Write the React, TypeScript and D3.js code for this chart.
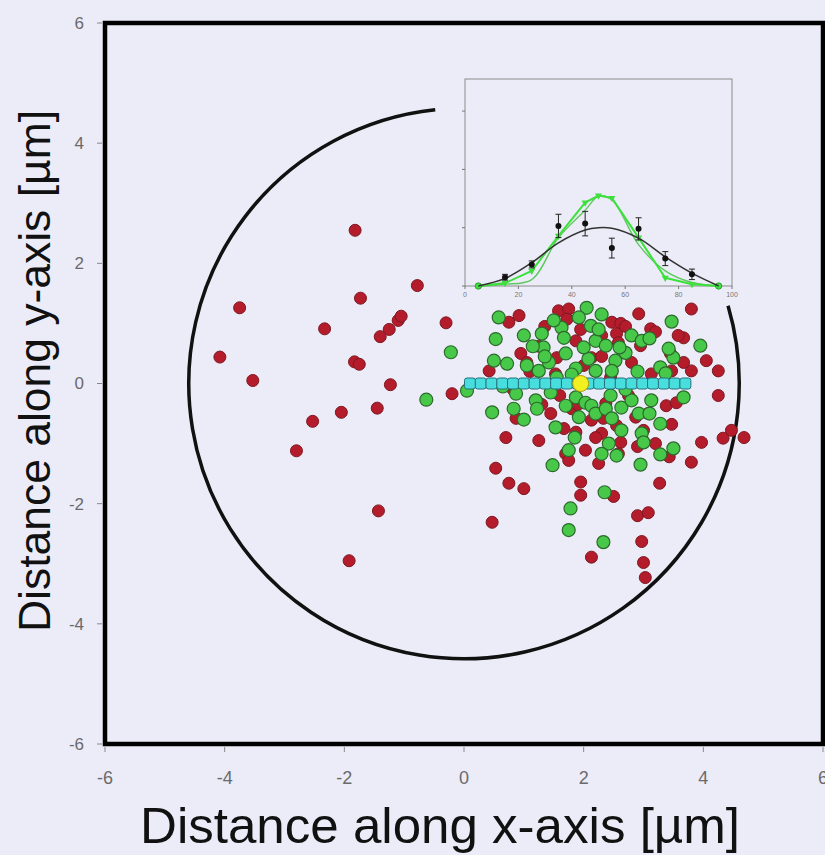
import { useEffect } from "react";
import * as d3 from "d3";

// main scatter: positions in micrometres
const redPoints: [number, number][] = [
    [-4.08, 0.44], [-3.75, 1.26], [-3.53, 0.05], [-2.8, -1.12], [-2.53, -0.63], [-2.05, -0.48],
    [-2.33, 0.91], [-1.82, 2.55], [-1.73, 1.42], [-1.83, 0.36], [-1.75, 0.32], [-1.4, 0.78],
    [-1.25, 0.9], [-1.1, 1.05], [-1.05, 1.12], [-0.78, 1.63], [-1.45, -0.41], [-1.23, -0.02],
    [-1.43, -2.12], [-1.92, -2.95], [-0.3, 1.01], [-0.2, -0.17],
    [0.42, 0.21], [0.75, 1.02], [0.92, 1.13], [0.95, 0.5], [1.25, 0.62], [1.55, 0.43], [1.53, 0.16],
    [1.58, 1.21], [1.75, 1.24], [1.72, 1.07], [1.87, 0.71], [2.13, 0.43], [2.3, 0.8], [2.47, 1.02],
    [2.62, 1.0], [2.55, 0.83], [2.58, 0.68], [2.92, 1.16], [2.95, 0.63], [3.12, 0.91], [3.2, 0.86],
    [3.8, 1.24], [3.67, 0.76], [3.58, 0.8], [4.05, 0.38], [4.25, 0.21], [3.8, 0.21], [3.67, 0.35],
    [3.47, 0.21], [3.45, 0.5], [3.13, 0.16], [2.8, 0.35], [2.3, 0.45], [1.95, 0.9], [1.35, 0.95],
    [1.1, 0.2], [2.0, 0.3], [2.7, 0.95], [1.05, 0.35],
    [1.45, -0.5], [0.87, -0.58], [0.7, -0.9], [1.25, -0.95], [1.67, -0.75], [1.87, -0.81],
    [1.8, -0.42], [2.13, -0.61], [2.33, -0.58], [2.3, -0.83], [2.03, -1.11], [2.37, -0.33],
    [2.62, -0.98], [2.87, -0.56], [3.08, -0.5], [3.47, -0.68], [3.38, -0.37], [3.55, -0.32],
    [3.97, -0.98], [4.25, -0.2], [4.33, -0.91], [4.68, -0.9], [4.47, -0.78], [3.8, -1.31],
    [3.43, -1.22], [2.58, -1.17], [2.25, -1.33], [1.7, -1.17], [1.75, -1.28], [0.53, -1.41],
    [0.75, -1.66], [1.0, -1.75], [0.47, -2.31], [1.95, -1.64], [1.95, -1.86], [2.5, -1.88],
    [2.13, -2.89], [2.9, -2.2], [3.08, -2.15], [2.97, -2.63], [3.0, -2.98], [3.03, -3.23],
    [3.27, -1.66], [3.0, -0.78], [2.75, -0.2], [1.6, -0.2], [1.3, -0.35], [2.2, -0.9],
    [2.9, -1.05], [2.45, 0.1], [0.82, -0.1], [1.9, -0.35], [3.2, -1.0], [2.55, -0.7],
];

const greenPoints: [number, number][] = [
    [-0.22, 0.52], [-0.63, -0.27], [0.05, -0.12], [0.47, -0.48], [0.83, -0.42], [0.53, 0.74],
    [0.58, 1.1], [0.5, 0.38], [0.72, 0.33], [1.0, 0.8], [1.05, 0.3], [1.25, 0.21], [1.3, 0.83],
    [1.33, 0.6], [1.63, 0.93], [1.67, 0.76], [1.7, 0.5], [1.42, 0.35], [1.87, 0.25], [2.05, 1.26],
    [1.92, 1.1], [2.3, 1.15], [2.2, 0.71], [2.37, 0.63], [2.53, 0.38], [2.7, 0.51], [2.8, 0.8],
    [2.47, 0.21], [2.2, 0.21], [2.08, 0.41], [2.97, 0.71], [3.1, 0.75], [3.28, 0.27], [3.37, 0.17],
    [3.47, 1.03], [3.5, 0.43], [3.42, 0.58], [3.95, 0.63], [0.87, -0.17], [1.2, -0.28],
    [1.22, -0.42], [1.7, -0.37], [1.87, -0.23], [2.03, -0.32], [2.13, -0.37], [2.2, -0.5],
    [2.37, -0.42], [2.47, -0.58], [2.63, -0.4], [2.8, -0.28], [2.92, -0.5], [3.13, -0.28],
    [3.28, -0.67], [3.67, -0.23], [2.97, -0.83], [3.0, -0.98], [2.42, -1.0], [2.63, -0.78],
    [1.92, -0.56], [1.53, -0.73], [1.75, -1.11], [2.3, -1.17], [3.28, -1.18], [3.5, -1.08],
    [2.95, -1.35], [1.48, -1.36], [2.35, -1.81], [1.78, -2.08], [1.75, -2.44], [2.33, -2.64],
    [2.12, 0.96], [1.55, 0.1], [1.35, 0.45], [2.6, 0.6], [2.9, 0.2], [1.0, -0.6], [2.7, -0.1],
    [1.85, -0.9], [2.25, 0.9], [1.5, 1.05], [2.55, -1.2], [1.15, 0.62], [2.0, 0.6], [1.8, 0.15],
    [2.45, -0.2], [3.1, -0.5], [1.45, -0.15], [0.65, -0.05],
];

const cyanX = [0.1, 0.28, 0.46, 0.64, 0.82, 1.0, 1.18, 1.36, 1.54, 1.72, 1.9, 2.08, 2.26, 2.44, 2.62, 2.8, 2.98, 3.16, 3.34, 3.52, 3.7];
const centerPoint: [number, number] = [1.95, 0];

const ticks = [-6, -4, -2, 0, 2, 4, 6];

// boundary circle (radius in um, drawn part in degrees, data orientation)
const circleRadius = 4.6;
const arcFrom = 96;
const arcTo = 16.4;

// inset profile
const insetTicksX = [0, 20, 40, 60, 80, 100];
const insetTicksY = [0, 1, 2, 3];
const profX = [15, 25, 35, 45, 55, 65, 75, 85];
const profY = [0.15, 0.37, 1.03, 1.07, 0.65, 0.98, 0.47, 0.2];
const profErr = [0.05, 0.06, 0.2, 0.21, 0.17, 0.19, 0.12, 0.09];
const fitX = [5, 15, 25, 35, 45, 50, 55, 65, 75, 85, 95];
const fitBlack = [0.0, 0.13, 0.4, 0.74, 0.96, 1.0, 0.99, 0.82, 0.5, 0.22, 0.0];
const greenA = [0.0, 0.05, 0.26, 0.86, 1.43, 1.55, 1.51, 0.83, 0.14, 0.03, 0.0];
const greenB = [0.0, 0.03, 0.11, 0.83, 1.3, 1.54, 1.48, 0.71, 0.26, 0.06, 0.0];

const BG = "#ececf8";
const FONT = "'Liberation Sans', Arial, sans-serif";

export default function App() {
    useEffect(() => {
        document.body.style.margin = "0";
        document.body.style.background = BG;
    }, []);

    const W = 825;
    const H = 855;
    const x = d3.scaleLinear().domain([-6, 6]).range([105, 823]);
    const y = d3.scaleLinear().domain([-6, 6]).range([744, 23]);

    const ix = d3.scaleLinear().domain([0, 100]).range([465, 732]);
    const iy = d3.scaleLinear().domain([0, 3.55]).range([286, 79]);

    const r = x(circleRadius) - x(0);
    const arcPath = d3.path();
    arcPath.arc(x(0), y(0), r, (-arcFrom * Math.PI) / 180, (-arcTo * Math.PI) / 180, true);

    const lineOf = (ys: number[], curve: d3.CurveFactory) =>
        d3
            .line<number>()
            .x((_, i) => ix(fitX[i]))
            .y(d => iy(d))
            .curve(curve)(ys) || "";

    const tri = d3.symbol().type(d3.symbolTriangle).size(22)() || "";

    return (
        <svg width={W} height={H} style={{ position: "absolute", left: 0, top: 0, background: BG }}>
            <rect x={0} y={0} width={W} height={H} fill={BG} />

            {/* boundary arc */}
            <path d={arcPath.toString()} fill="none" stroke="#111" strokeWidth={3.5} />

            {/* inset */}
            <g>
                <rect x={ix(0)} y={iy(3.55)} width={ix(100) - ix(0)} height={iy(0) - iy(3.55)} fill={BG} stroke="#8a8a8a" strokeWidth={1} />
                {insetTicksX.map(t => (
                    <g key={t}>
                        <line x1={ix(t)} x2={ix(t)} y1={iy(0)} y2={iy(0) + 3} stroke="#777" />
                        <text x={ix(t)} y={iy(0) + 11} fontSize={7} fill="#777" textAnchor="middle" fontFamily={FONT}>
                            {t}
                        </text>
                    </g>
                ))}
                {insetTicksY.map(t => (
                    <line key={t} x1={ix(0) - 3} x2={ix(0)} y1={iy(t)} y2={iy(t)} stroke="#777" />
                ))}
                <path d={lineOf(greenB, d3.curveCatmullRom)} fill="none" stroke="#5fc85f" strokeWidth={1.4} />
                <path d={lineOf(greenA, d3.curveLinear)} fill="none" stroke="#3ee03e" strokeWidth={2} />
                {greenA.map((v, i) =>
                    i === 0 || i === greenA.length - 1 ? (
                        <circle key={i} cx={ix(fitX[i])} cy={iy(v)} r={3.2} fill="#3ee03e" stroke="#2a8a2a" strokeWidth={0.8} />
                    ) : (
                        <path key={i} d={tri} transform={`translate(${ix(fitX[i])},${iy(v)}) rotate(180)`} fill="#3ee03e" />
                    )
                )}
                <path d={lineOf(fitBlack, d3.curveCatmullRom)} fill="none" stroke="#333" strokeWidth={1.5} />
                {profX.map((px, i) => (
                    <g key={px} stroke="#222" strokeWidth={1}>
                        <line x1={ix(px)} x2={ix(px)} y1={iy(profY[i] - profErr[i])} y2={iy(profY[i] + profErr[i])} />
                        <line x1={ix(px) - 3} x2={ix(px) + 3} y1={iy(profY[i] + profErr[i])} y2={iy(profY[i] + profErr[i])} />
                        <line x1={ix(px) - 3} x2={ix(px) + 3} y1={iy(profY[i] - profErr[i])} y2={iy(profY[i] - profErr[i])} />
                        <circle cx={ix(px)} cy={iy(profY[i])} r={3} fill="#111" stroke="none" />
                    </g>
                ))}
            </g>

            {/* scatter */}
            {redPoints.map(([a, b], i) => (
                <circle key={"r" + i} cx={x(a)} cy={y(b)} r={6} fill="#b41c2c" stroke="#7c1820" strokeWidth={1} />
            ))}
            {greenPoints.map(([a, b], i) => (
                <circle key={"g" + i} cx={x(a)} cy={y(b)} r={6.5} fill="#48c848" stroke="#2c6a2c" strokeWidth={1.2} />
            ))}
            <line x1={x(cyanX[0]) - 5} x2={x(cyanX[cyanX.length - 1]) + 5} y1={y(0)} y2={y(0)} stroke="#1f3f4f" strokeWidth={3} />
            {cyanX.map((cx, i) => (
                <rect key={"c" + i} x={x(cx) - 5.5} y={y(0) - 5.5} width={11} height={11} rx={2.5} fill="#48dede" stroke="#26707c" strokeWidth={1} />
            ))}
            <circle cx={x(centerPoint[0])} cy={y(centerPoint[1])} r={8} fill="#f2f020" stroke="#a8a010" strokeWidth={1} />

            {/* frame */}
            <rect x={x(-6)} y={y(6)} width={x(6) - x(-6)} height={y(-6) - y(6)} fill="none" stroke="#000" strokeWidth={4.5} />

            {/* y axis ticks */}
            {ticks.map(t => (
                <g key={"yt" + t}>
                    <line x1={x(-6) - 8} x2={x(-6) - 3} y1={y(t)} y2={y(t)} stroke="#888" />
                    <text x={84} y={y(t)} dy="0.35em" fontSize={17} fill="#6a6a6a" textAnchor="end" fontFamily={FONT}>
                        {t}
                    </text>
                </g>
            ))}
            {/* x axis ticks */}
            {ticks.map(t => (
                <g key={"xt" + t}>
                    <line x1={x(t)} x2={x(t)} y1={y(-6) + 3} y2={y(-6) + 8} stroke="#888" />
                    <text x={x(t)} y={784} fontSize={18} fill="#6a6a6a" textAnchor="middle" fontFamily="'Liberation Sans Narrow', 'Liberation Sans', Arial, sans-serif">
                        {t}
                    </text>
                </g>
            ))}

            <text x={440} y={843} fontSize={50} fill="#111" textAnchor="middle" fontFamily={FONT} textLength={600} lengthAdjust="spacingAndGlyphs">
                Distance along x-axis [µm]
            </text>
            <text transform="translate(50,371) rotate(-90)" fontSize={44} fill="#111" textAnchor="middle" fontFamily={FONT} textLength={522} lengthAdjust="spacingAndGlyphs">
                Distance along y-axis [µm]
            </text>
        </svg>
    );
}
